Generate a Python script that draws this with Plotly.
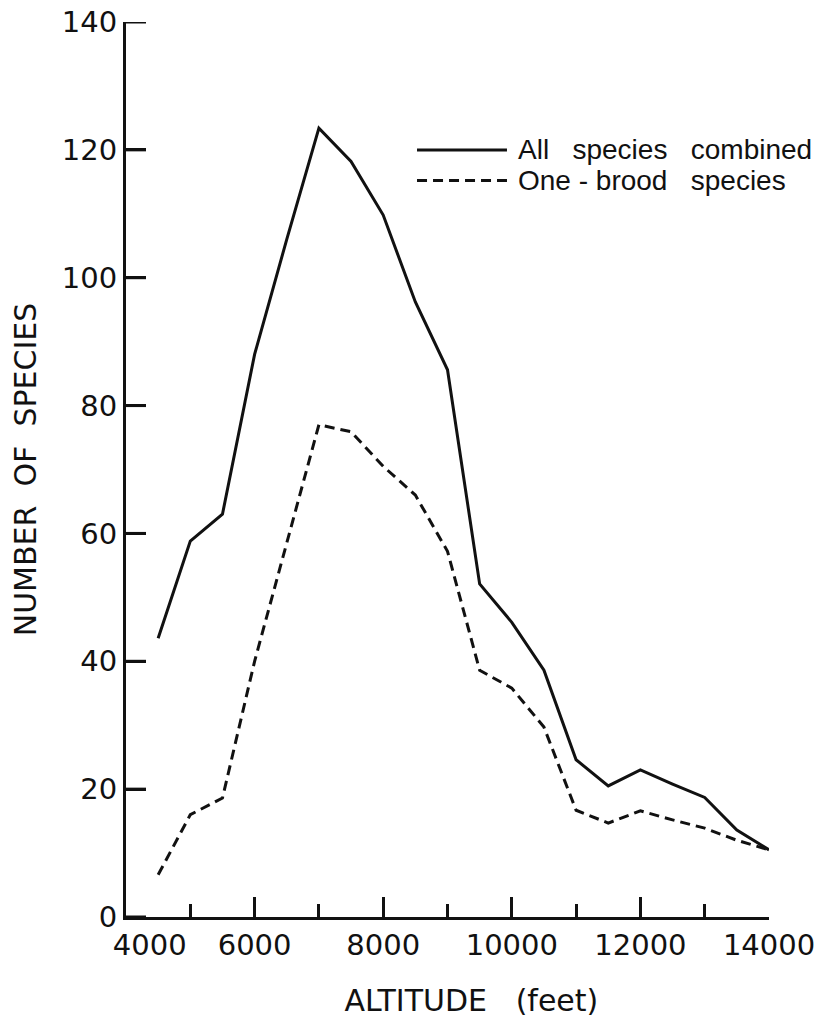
import plotly.graph_objects as go

# ---- data ----
altitude = [4500, 5000, 5500, 6000, 6500, 7000, 7500, 8000, 8500, 9000,
            9500, 10000, 10500, 11000, 11500, 12000, 12500, 13000, 13500, 14000]
all_species = [43.6, 58.8, 63, 88, 106, 123.4, 118.2, 109.8, 96.2, 85.6,
               52.1, 46.1, 38.6, 24.6, 20.5, 23, 20.8, 18.7, 13.6, 10.5]
one_brood = [6.6, 16, 18.6, 40, 58.5, 77, 75.9, 70.5, 66, 57.2,
             38.6, 35.8, 29.7, 16.7, 14.7, 16.6, 15.2, 13.9, 12, 10.5]

series_names = ["All species combined", "One - brood species"]
legend_texts = ["All\u00a0\u00a0\u00a0species\u00a0\u00a0\u00a0combined",
                "One\u00a0-\u00a0brood\u00a0\u00a0\u00a0species"]
x_ticks = [4000, 6000, 8000, 10000, 12000, 14000]
x_tick_labels = ["\u2002\u2002\u00a0\u00a04000", "6000", "8000", "10000", "12000", "14000"]
x_minor_ticks = [5000, 7000, 9000, 11000, 13000]
y_ticks = [0, 20, 40, 60, 80, 100, 120, 140]
y_tick_labels = ["0", "20", "40", "60", "80", "100", "120", "140"]

INK = "#111111"
FONT = "DejaVu Sans"
PLOT_W = 643          # plot-area width in px (825 - margins)
Y_TICKLEN = 20        # px

fig = go.Figure()
fig.add_trace(go.Scatter(x=altitude, y=all_species, mode="lines",
                         name=series_names[0],
                         line=dict(color=INK, width=3)))
fig.add_trace(go.Scatter(x=altitude, y=one_brood, mode="lines",
                         name=series_names[1],
                         line=dict(color=INK, width=3, dash="10px,6px")))

# y tick marks pointing inward, placed at the y-axis tick values
for v in y_ticks:
    fig.add_shape(type="line", xref="x domain", yref="y",
                  x0=0, x1=Y_TICKLEN / PLOT_W, y0=v, y1=v,
                  line=dict(color=INK, width=3))

# custom legend (long sample lines, as in the reference)
leg_x0, leg_x1, leg_tx = 0.4526, 0.5925, 0.606
leg_y = [0.8570, 0.8230]
for i, dash in enumerate(["solid", "10px,6px"]):
    fig.add_shape(type="line", xref="paper", yref="paper",
                  x0=leg_x0, x1=leg_x1, y0=leg_y[i], y1=leg_y[i],
                  line=dict(color=INK, width=3, dash=dash))
    fig.add_annotation(xref="paper", yref="paper", x=leg_tx, y=leg_y[i],
                       text=legend_texts[i],
                       showarrow=False, xanchor="left", yanchor="middle",
                       font=dict(family="Liberation Sans", size=28, color=INK))

fig.update_layout(
    width=825, height=1026,
    margin=dict(l=118, r=64, t=14, b=117),
    paper_bgcolor="white", plot_bgcolor="white",
    showlegend=False,
    font=dict(family=FONT, color=INK),
)
fig.update_xaxes(
    automargin=False,
    range=[4000, 14000], tickmode="array", tickvals=x_ticks, ticktext=x_tick_labels,
    showgrid=False, zeroline=False, showline=True, linecolor=INK, linewidth=3,
    ticks="inside", ticklen=20, tickwidth=3, tickcolor=INK,
    minor=dict(tickmode="array", tickvals=x_minor_ticks, ticks="inside",
               ticklen=13, tickwidth=3, tickcolor=INK, showgrid=False),
    tickfont=dict(family=FONT, size=29, color=INK),
    ticklabeloverflow="allow",
    title=dict(text="\u200b" + "\u00a0" * 5 + "ALTITUDE\u00a0\u00a0\u00a0(feet)", standoff=30,
               font=dict(family=FONT, size=30, color=INK)),
)
fig.update_yaxes(
    automargin=False,
    range=[0, 140], tickmode="array", tickvals=y_ticks, ticktext=y_tick_labels,
    showgrid=False, zeroline=False, showline=True, linecolor=INK, linewidth=3,
    ticks="inside", ticklen=Y_TICKLEN, tickwidth=3, tickcolor=INK,
    ticklabeloverflow="allow",
    tickfont=dict(family=FONT, size=29, color=INK),
    title=dict(text="NUMBER\u00a0\u00a0OF\u00a0\u00a0SPECIES", standoff=18,
               font=dict(family=FONT, size=30, color=INK)),
)

fig.write_html("out.html")
